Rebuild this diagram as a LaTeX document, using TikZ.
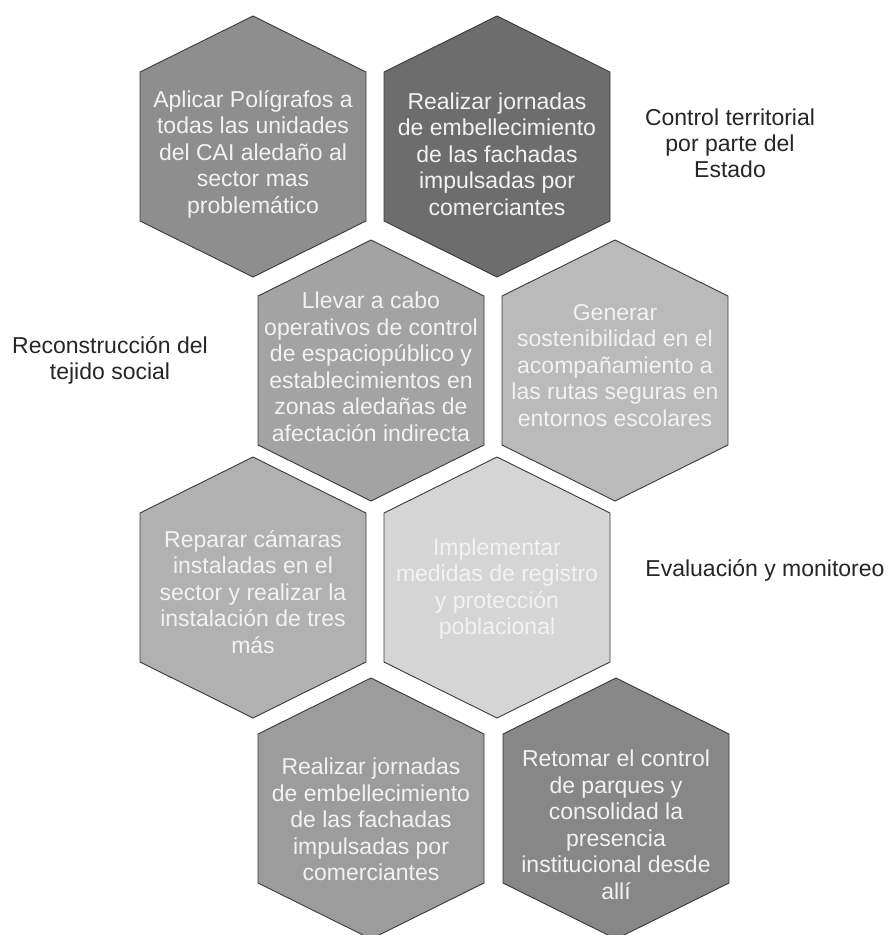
\documentclass[tikz,border=0pt]{standalone}
\usepackage{fontspec}
\setmainfont{Liberation Sans}
\definecolor{hexline}{HTML}{3A3A3A}
\definecolor{hextxt}{HTML}{F2F2F2}
\definecolor{labtxt}{HTML}{262626}
\definecolor{cA}{HTML}{8E8E8E}
\definecolor{cB}{HTML}{6D6D6D}
\definecolor{cC}{HTML}{A3A3A3}
\definecolor{cD}{HTML}{BABABA}
\definecolor{cE}{HTML}{B1B1B1}
\definecolor{cF}{HTML}{D5D5D5}
\definecolor{cG}{HTML}{9C9C9C}
\definecolor{cH}{HTML}{878787}
\tikzset{
  hexborder/.style={draw=hexline, line width=0.9pt, line join=miter},
  hextext/.style={text=hextxt, align=center, inner sep=0pt,
    font=\fontsize{23}{26.5}\selectfont},
  sidelabel/.style={text=labtxt, align=center, inner sep=0pt,
    font=\fontsize{23}{26}\selectfont}
}
\newcommand{\myhex}[3]{%
  \filldraw[hexborder, fill=#3]
    ({#1-113},{#2-74.5}) -- ({#1},{#2-130.5}) -- ({#1+113},{#2-74.5}) --
    ({#1+113},{#2+74.5}) -- ({#1},{#2+130.5}) -- ({#1-113},{#2+74.5}) -- cycle;}
\begin{document}
\begin{tikzpicture}[x=1pt,y=-1pt]
\useasboundingbox (0,0) rectangle (890,935);
\clip (0,0) rectangle (890,935);
\fill[white] (0,0) rectangle (890,935);
\myhex{253}{146.5}{cA}
\myhex{497}{146.5}{cB}
\myhex{371}{370.5}{cC}
\myhex{615}{370.5}{cD}
\myhex{253}{587.5}{cE}
\myhex{497}{587.5}{cF}
\myhex{371}{808.5}{cG}
\myhex{616}{808.5}{cH}
\node[hextext] (t1) at (253,154) {Aplicar Polígrafos a\\todas las unidades\\del CAI aledaño al\\sector mas\\problemático};
\node[hextext] (t2) at (497,154) {Realizar jornadas\\de embellecimiento\\de las fachadas\\impulsadas por\\comerciantes};
\node[hextext] (t3) at (371,367) {Llevar a cabo\\operativos de control\\de espaciopúblico y\\establecimientos en\\zonas aledañas de\\afectación indirecta};
\node[hextext] (t4) at (615,365.5) {Generar\\sostenibilidad en el\\acompañamiento a\\las rutas seguras en\\entornos escolares};
\node[hextext] (t5) at (253,592) {Reparar cámaras\\instaladas en el\\sector y realizar la\\instalación de tres\\más};
\node[hextext] (t6) at (497,589) {Implementar\\medidas de registro\\y protección\\poblacional};
\node[hextext] (t7) at (371,819.5) {Realizar jornadas\\de embellecimiento\\de las fachadas\\impulsadas por\\comerciantes};
\node[hextext] (t8) at (616,825) {Retomar el control\\de parques y\\consolidad la\\presencia\\institucional desde\\allí};
\node[sidelabel] (l1) at (730,143) {Control territorial\\por parte del\\Estado};
\node[sidelabel] (l2) at (110,360) {Reconstrucción del\\tejido social};
\node[sidelabel] (l3) at (765,570) {Evaluación y monitoreo};
\end{tikzpicture}
\end{document}
